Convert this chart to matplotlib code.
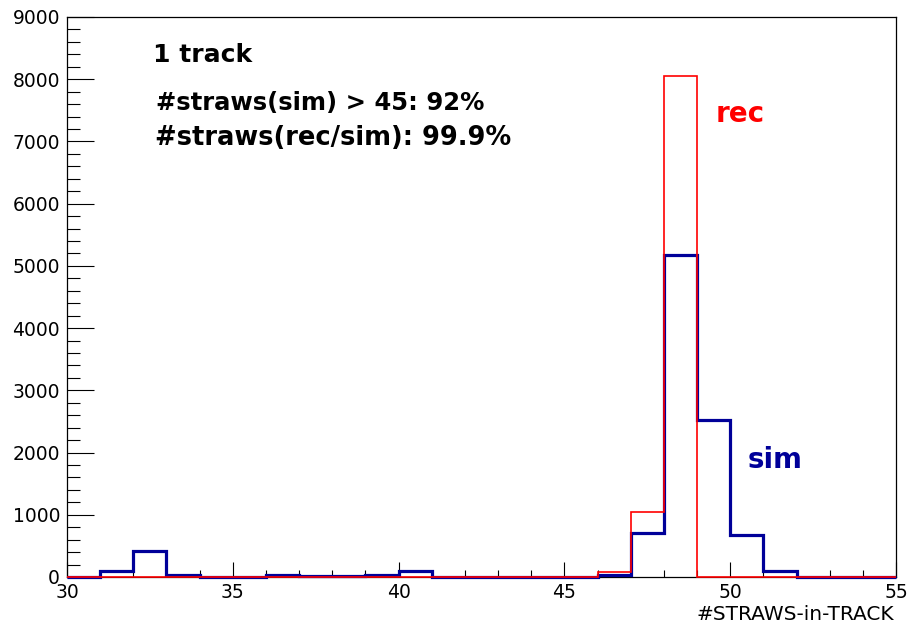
import numpy as np
import matplotlib
matplotlib.use("Agg")
import matplotlib.pyplot as plt
from matplotlib.ticker import MultipleLocator

# Bin edges: one bin per straw count, 30..55
bin_lo, bin_hi = 30, 55
edges = np.arange(bin_lo, bin_hi + 1)

# Straws per track, simulated (one entry per bin, 30-31 ... 54-55)
sim_counts = [0, 90, 410, 40, 5, 5, 30, 10, 10, 30, 90, 5, 0,
              0, 0, 0, 40, 700, 5180, 2520, 680, 100, 0, 0, 0]
# Straws per track, reconstructed
rec_counts = [0, 0, 0, 0, 0, 0, 0, 0, 0, 0, 0, 0, 0,
              0, 0, 0, 85, 1050, 8050, 0, 0, 0, 0, 0, 0]

x_title = "#STRAWS-in-TRACK"
info_lines = ["1 track", "#straws(sim) > 45: 92%", "#straws(rec/sim): 99.9%"]

W, H = 912, 630
fig = plt.figure(figsize=(W / 100, H / 100), dpi=100)
fig.patch.set_facecolor("white")

# Frame position in pixels
left, right, top, bottom = 67, 896, 17, 577
ax = fig.add_axes([left / W, 1 - bottom / H, (right - left) / W, (bottom - top) / H])

sim_color = "#000099"
rec_color = "#ff0000"

ax.stairs(sim_counts, edges, color=sim_color, linewidth=2.3, baseline=0,
          clip_on=False, zorder=3)
ax.stairs(rec_counts, edges, color=rec_color, linewidth=1.2, baseline=0,
          clip_on=False, zorder=4)

ax.set_xlim(bin_lo, bin_hi)
ax.set_ylim(0, 9000)

ax.xaxis.set_major_locator(MultipleLocator(5))
ax.xaxis.set_minor_locator(MultipleLocator(1))
ax.yaxis.set_major_locator(MultipleLocator(1000))
ax.yaxis.set_minor_locator(MultipleLocator(200))

ax.tick_params(axis="x", which="major", direction="in", length=10.8, width=0.8,
               top=False, labelsize=13.5, pad=4.5, colors="black")
ax.tick_params(axis="x", which="minor", direction="in", length=5.4, width=0.8, top=False)
ax.tick_params(axis="y", which="major", direction="in", length=19.4, width=0.8,
               right=False, labelsize=13.5, pad=5, colors="black")
ax.tick_params(axis="y", which="minor", direction="in", length=9.7, width=0.8, right=False)

for sp in ax.spines.values():
    sp.set_linewidth(0.9)
    sp.set_color("black")

def px(x, y):
    return x / W, 1 - y / H

# Summary text block
fig.text(*px(153, 62), info_lines[0], fontsize=18, fontweight="bold",
         va="baseline", ha="left")
fig.text(*px(156, 110), info_lines[1], fontsize=17.5, fontweight="bold",
         va="baseline", ha="left")
fig.text(*px(155, 145), info_lines[2], fontsize=18.5, fontweight="bold",
         va="baseline", ha="left")

# Series labels
fig.text(*px(716, 122), "rec", fontsize=20, fontweight="bold", color=rec_color,
         va="baseline", ha="left")
fig.text(*px(748, 468), "sim", fontsize=20, fontweight="bold", color=sim_color,
         va="baseline", ha="left")

# Axis title, right-aligned below the frame
fig.text(*px(894, 620), x_title, fontsize=14.5, va="baseline", ha="right")

fig.savefig("out.png", dpi=100)
